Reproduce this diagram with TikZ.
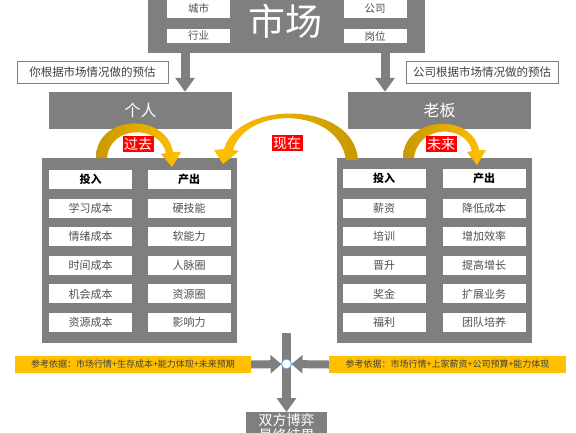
\documentclass[tikz,border=0pt]{standalone}
\usepackage{fontspec}
\setmainfont{Noto Sans CJK SC}
\usetikzlibrary{arrows.meta}

\definecolor{boxgray}{HTML}{7F7F7F}
\definecolor{textgray}{HTML}{505050}
\definecolor{darktext}{HTML}{404040}
\definecolor{goldlight}{HTML}{FFC000}
\definecolor{golddark}{HTML}{C79800}
\definecolor{ringblue}{HTML}{5B9BD5}

\tikzset{
  panel/.style={fill=boxgray,inner sep=0pt},
  cell/.style={fill=white,inner sep=0pt,minimum width=83pt,minimum height=19pt,
    text=textgray,font=\fontsize{11}{12}\selectfont},
  headcell/.style={cell,text=black,font=\fontsize{11}{12}\selectfont\bfseries},
  topcell/.style={fill=white,inner sep=0pt,minimum width=63pt,
    text=textgray,font=\fontsize{10.5}{12}\selectfont},
  note/.style={draw=boxgray,fill=white,inner sep=0pt,minimum height=22pt,
    text=darktext,font=\fontsize{11.5}{12}\selectfont},
  timelabel/.style={fill=red,text=white,inner sep=1.5pt,font=\fontsize{14}{15}\selectfont},
  refbar/.style={fill=goldlight,inner sep=0pt,minimum height=17pt,
    text=darktext,font=\fontsize{9}{10}\selectfont},
  grayarrow/.style={draw=boxgray,line width=9pt,-{Triangle[width=19pt,length=14pt]}},
  sidearrow/.style={draw=boxgray,line width=8pt,-{Triangle[width=18pt,length=11pt]}},
}

\begin{document}
\begin{tikzpicture}[x=1pt,y=-1pt]
  \useasboundingbox (0,0) rectangle (576,432);
  \clip (0,0) rectangle (576,432);

  \draw (286.5,21.5) node[panel,minimum width=277pt,minimum height=63pt] (market) {};
  \draw (198.5,8.5) node[topcell,minimum height=19pt] (city) {城市};
  \draw (198.5,36) node[topcell,minimum height=14pt] (trade) {行业};
  \draw (375,8.5) node[topcell,minimum height=19pt] (firm) {公司};
  \draw (375,36) node[topcell,minimum height=14pt] (post) {岗位};
  \draw (285,21) node[text=white,font=\fontsize{37}{40}\selectfont] (marketname) {市场};

  \draw (92.5,72) node[note,minimum width=151pt] (youguess) {你根据市场情况做的预估};
  \draw (482,72) node[note,minimum width=152pt] (firmguess) {公司根据市场情况做的预估};

  \draw (140.5,110.5) node[panel,minimum width=183pt,minimum height=37pt,
    text=white,font=\fontsize{16}{18}\selectfont] (person) {个人};
  \draw (439.5,110.5) node[panel,minimum width=183pt,minimum height=37pt,
    text=white,font=\fontsize{16}{18}\selectfont] (boss) {老板};

  \draw[grayarrow] (market.south -| 185,0) -- (person.north -| 185,0);
  \draw[grayarrow] (market.south -| 385,0) -- (boss.north -| 385,0);

  \draw (139.5,250.5) node[panel,minimum width=195pt,minimum height=185pt] (leftpanel) {};
  \draw (434.5,250.5) node[panel,minimum width=195pt,minimum height=185pt] (rightpanel) {};

  \draw (90.5,179.5) node[headcell] (lin) {投入};
  \draw (189,179.5) node[headcell] (lout) {产出};
  \draw (90.5,208.1) node[cell] (lin1) {学习成本};
  \draw (90.5,236.7) node[cell] (lin2) {情绪成本};
  \draw (90.5,265.3) node[cell] (lin3) {时间成本};
  \draw (90.5,293.9) node[cell] (lin4) {机会成本};
  \draw (90.5,322.5) node[cell] (lin5) {资源成本};
  \draw (189,208.1) node[cell] (lout1) {硬技能};
  \draw (189,236.7) node[cell] (lout2) {软能力};
  \draw (189,265.3) node[cell] (lout3) {人脉圈};
  \draw (189,293.9) node[cell] (lout4) {资源圈};
  \draw (189,322.5) node[cell] (lout5) {影响力};

  \draw (384,178) node[headcell] (rin) {投入};
  \draw (484,178) node[headcell] (rout) {产出};
  \draw (384,208.1) node[cell] (rin1) {薪资};
  \draw (384,236.7) node[cell] (rin2) {培训};
  \draw (384,265.3) node[cell] (rin3) {晋升};
  \draw (384,293.9) node[cell] (rin4) {奖金};
  \draw (384,322.5) node[cell] (rin5) {福利};
  \draw (484,208.1) node[cell] (rout1) {降低成本};
  \draw (484,236.7) node[cell] (rout2) {增加效率};
  \draw (484,265.3) node[cell] (rout3) {提高增长};
  \draw (484,293.9) node[cell] (rout4) {扩展业务};
  \draw (484,322.5) node[cell] (rout5) {团队培养};

  \shade[left color=golddark,right color=goldlight]
    (96,158) .. controls (96,114) and (166,112) .. (173,152) -- (181,152) -- (172,167)
    -- (161,154) -- (166,153) .. controls (160,125) and (110,124) .. (107,158) -- cycle;
  \shade[left color=goldlight,right color=golddark]
    (358,160) .. controls (354,100) and (238,100) .. (224,149) -- (214,150) -- (223,164)
    -- (239,151) -- (233,150) .. controls (246,106) and (338,106) .. (346,160) -- cycle;
  \shade[left color=golddark,right color=goldlight]
    (403,158) .. controls (403,116) and (472,112) .. (479,150) -- (486,150) -- (477,165)
    -- (467,152) -- (472,151) .. controls (466,124) and (418,124) .. (414,158) -- cycle;

  \draw (138,144) node[timelabel] (past) {过去};
  \draw (287,143) node[timelabel] (now) {现在};
  \draw (441,144) node[timelabel] (future) {未来};

  \draw (133,364.5) node[refbar,minimum width=236pt] (leftref) {参考依据：市场行情+生存成本+能力体现+未来预期};
  \draw (447.5,364.5) node[refbar,minimum width=237pt] (rightref) {参考依据：市场行情+上家薪资+公司预算+能力体现};

  \draw (286.5,412) node[panel,anchor=north,minimum width=81pt,inner ysep=1pt,align=center,
    text=white,font=\fontsize{14}{15}\selectfont] (result) {双方博弈\\最终结果};

  \coordinate (split) at (286.5,333);
  \coordinate (meet) at (286.5,364);
  \draw[grayarrow] (split) -- (result.north);
  \draw[sidearrow,shorten >=5pt] (leftref.east) -- (meet);
  \draw[sidearrow,shorten >=5pt] (rightref.west) -- (meet);
  \draw (meet) node[circle,draw=ringblue,fill=white,line width=0.8pt,
    minimum size=10pt,inner sep=0pt] (ring) {};

\end{tikzpicture}
\end{document}
